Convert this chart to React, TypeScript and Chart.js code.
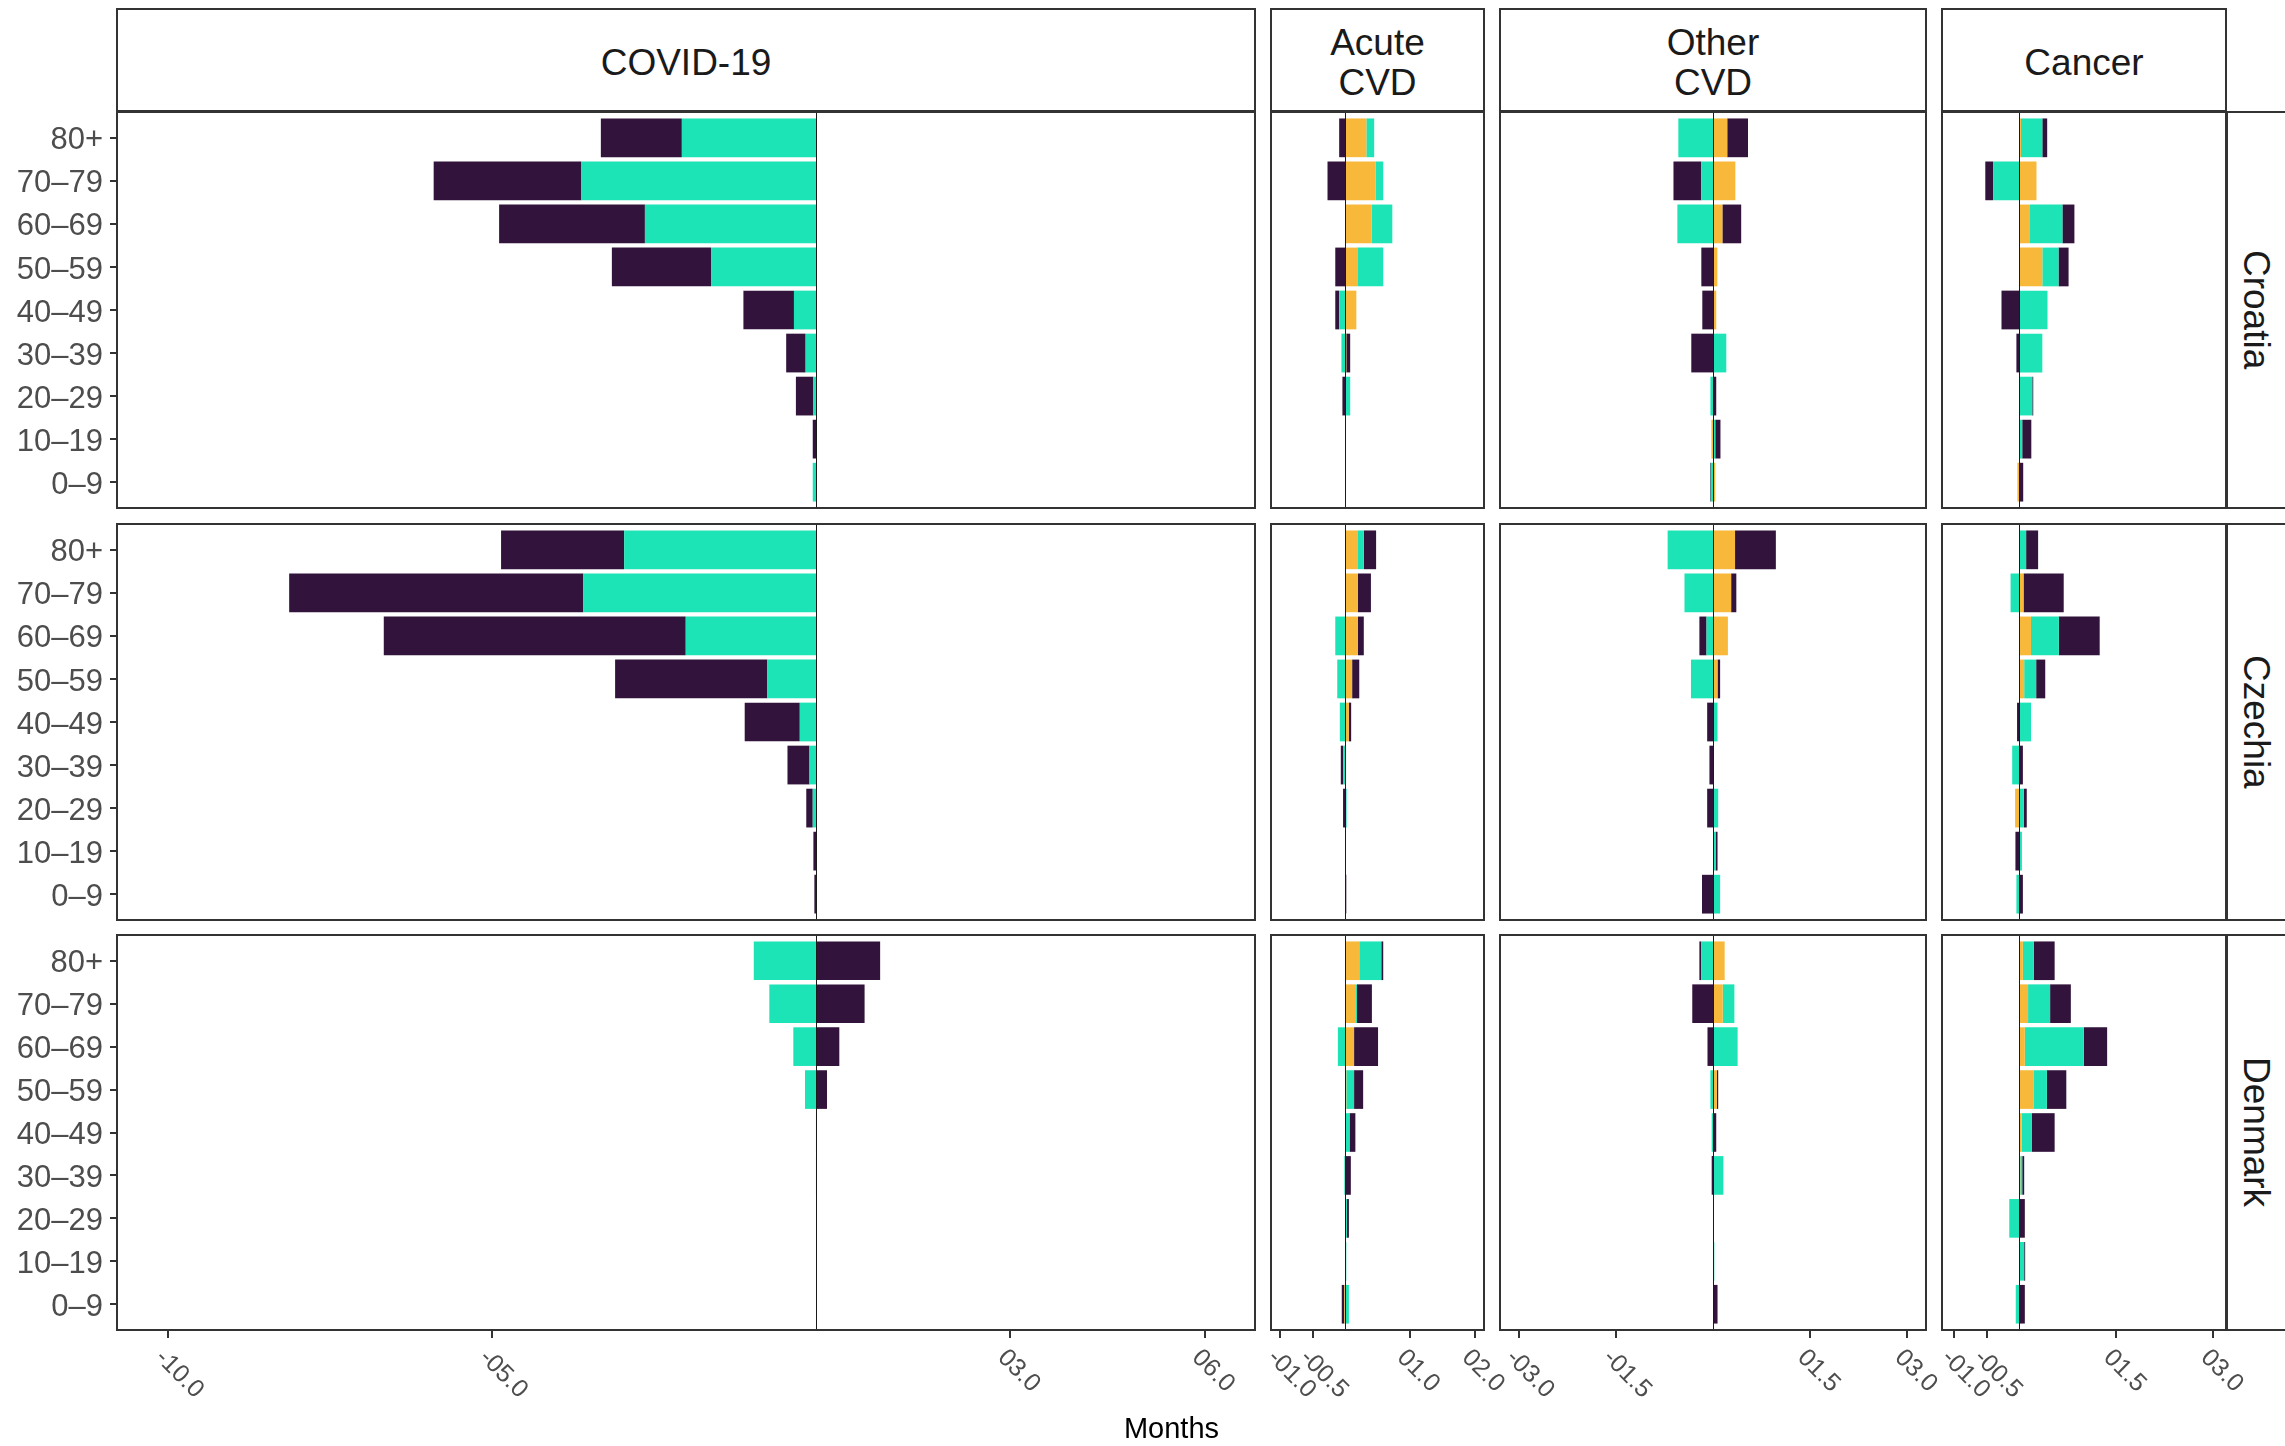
import React, { useEffect, useRef } from 'react';
import { Chart, registerables } from 'chart.js';

Chart.register(...registerables);

// ---------- categories & labels ----------
const AGE_GROUPS = ['80+', '70–79', '60–69', '50–59', '40–49', '30–39', '20–29', '10–19', '0–9'];
const COUNTRIES = ['Croatia', 'Czechia', 'Denmark'];
const CAUSES = ['COVID-19', 'Acute\nCVD', 'Other\nCVD', 'Cancer'];
const SERIES_LABELS = ['Component 1', 'Component 2', 'Component 3'];
const SERIES_COLORS = ['#F8B93B', '#1CE4B6', '#32133B'];

// ---------- x-axis ticks per cause ----------
const COVID_TICKS = [-10, -5, 3, 6];
const COVID_TICK_LABELS = ['-10.0', '-05.0', '03.0', '06.0'];
const ACUTE_TICKS = [-1, -0.5, 1, 2];
const ACUTE_TICK_LABELS = ['-01.0', '-00.5', '01.0', '02.0'];
const OTHER_TICKS = [-3, -1.5, 1.5, 3];
const OTHER_TICK_LABELS = ['-03.0', '-01.5', '01.5', '03.0'];
const CANCER_TICKS = [-1, -0.5, 1.5, 3];
const CANCER_TICK_LABELS = ['-01.0', '-00.5', '01.5', '03.0'];

const COVID_RANGE = [-10.787, 6.775];
const ACUTE_RANGE = [-1.142, 2.145];
const OTHER_RANGE = [-3.287, 3.287];
const CANCER_RANGE = [-1.188, 3.194];

// ---------- values (months), age groups top (80+) to bottom (0–9) ----------
// Croatia
const CRO_COVID_YELLOW = [0, 0, 0, 0, 0, 0, 0, 0, 0];
const CRO_COVID_TEAL = [-2.07, -3.62, -2.64, -1.62, -0.34, -0.16, -0.04, 0, -0.05];
const CRO_COVID_PURPLE = [-1.25, -2.28, -2.25, -1.53, -0.78, -0.3, -0.27, -0.05, 0];
const CRO_ACUTE_YELLOW = [0.33, 0.47, 0.41, 0.19, 0.175, 0.02, 0, 0, 0];
const CRO_ACUTE_TEAL = [0.12, 0.12, 0.32, 0.4, -0.09, -0.055, 0.08, 0, 0];
const CRO_ACUTE_PURPLE = [-0.09, -0.27, 0, -0.15, -0.06, 0.06, -0.04, 0, 0];
const CRO_OTHER_YELLOW = [0.22, 0.345, 0.145, 0.067, 0.05, 0, 0, -0.025, 0.035];
const CRO_OTHER_TEAL = [-0.535, -0.18, -0.55, 0, 0, 0.205, -0.04, 0.035, -0.035];
const CRO_OTHER_PURPLE = [0.32, -0.43, 0.29, -0.18, -0.165, -0.335, 0.05, 0.08, -0.01];
const CRO_CANCER_YELLOW = [0.03, 0.27, 0.17, 0.36, 0, 0, 0, 0, -0.025];
const CRO_CANCER_TEAL = [0.33, -0.4, 0.5, 0.25, 0.44, 0.36, 0.205, 0.05, 0];
const CRO_CANCER_PURPLE = [0.075, -0.12, 0.185, 0.155, -0.27, -0.04, 0.015, 0.14, 0.065];
// Czechia
const CZE_COVID_YELLOW = [0, 0, 0, 0, 0, 0, 0, 0, 0];
const CZE_COVID_TEAL = [-2.96, -3.59, -2.01, -0.75, -0.25, -0.1, -0.05, 0, 0];
const CZE_COVID_PURPLE = [-1.9, -4.54, -4.66, -2.35, -0.85, -0.34, -0.1, -0.04, -0.025];
const CZE_ACUTE_YELLOW = [0.2, 0.2, 0.2, 0.11, 0.06, 0, 0, 0, 0];
const CZE_ACUTE_TEAL = [0.09, 0, -0.15, -0.12, -0.08, -0.03, 0.025, 0, 0];
const CZE_ACUTE_PURPLE = [0.19, 0.2, 0.09, 0.11, 0.035, -0.035, -0.03, 0, 0.02];
const CZE_OTHER_YELLOW = [0.34, 0.28, 0.23, 0.07, 0.015, 0, 0, 0, 0];
const CZE_OTHER_TEAL = [-0.7, -0.44, -0.1, -0.34, 0.055, 0.01, 0.08, 0.04, 0.11];
const CZE_OTHER_PURPLE = [0.63, 0.08, -0.11, 0.04, -0.09, -0.055, -0.09, 0.03, -0.17];
const CZE_CANCER_YELLOW = [0, 0.07, 0.185, 0.08, 0, 0, -0.06, 0, 0];
const CZE_CANCER_TEAL = [0.11, -0.13, 0.43, 0.185, 0.185, -0.105, 0.075, 0.045, -0.04];
const CZE_CANCER_PURPLE = [0.185, 0.62, 0.63, 0.14, -0.03, 0.06, 0.045, -0.055, 0.06];
// Denmark
const DEN_COVID_YELLOW = [0, 0, 0, 0, 0, 0, 0, 0, 0];
const DEN_COVID_TEAL = [-0.96, -0.72, -0.35, -0.17, 0, 0, 0, 0, 0];
const DEN_COVID_PURPLE = [0.99, 0.75, 0.36, 0.17, 0.01, 0.01, 0, 0, 0];
const DEN_ACUTE_YELLOW = [0.22, 0.17, 0.14, 0.02, 0.01, 0, 0.01, 0, -0.01];
const DEN_ACUTE_TEAL = [0.34, 0.015, -0.11, 0.12, 0.06, -0.01, 0.02, 0.02, 0.06];
const DEN_ACUTE_PURPLE = [0.03, 0.23, 0.37, 0.14, 0.09, 0.09, 0.03, 0, -0.04];
const DEN_OTHER_YELLOW = [0.18, 0.15, 0.01, 0.06, 0, 0, 0, 0, 0];
const DEN_OTHER_TEAL = [-0.18, 0.18, 0.37, -0.04, -0.02, 0.16, 0, 0.02, 0];
const DEN_OTHER_PURPLE = [-0.03, -0.32, -0.085, 0.02, 0.05, -0.02, 0.01, 0, 0.07];
const DEN_CANCER_YELLOW = [0.06, 0.14, 0.09, 0.23, 0.04, 0.02, 0, 0, 0];
const DEN_CANCER_TEAL = [0.17, 0.34, 0.91, 0.2, 0.16, 0.03, -0.15, 0.08, -0.05];
const DEN_CANCER_PURPLE = [0.32, 0.32, 0.36, 0.3, 0.35, 0.03, 0.09, 0.015, 0.09];

const PANEL_DATA = [
  [
    [CRO_COVID_YELLOW, CRO_COVID_TEAL, CRO_COVID_PURPLE],
    [CRO_ACUTE_YELLOW, CRO_ACUTE_TEAL, CRO_ACUTE_PURPLE],
    [CRO_OTHER_YELLOW, CRO_OTHER_TEAL, CRO_OTHER_PURPLE],
    [CRO_CANCER_YELLOW, CRO_CANCER_TEAL, CRO_CANCER_PURPLE],
  ],
  [
    [CZE_COVID_YELLOW, CZE_COVID_TEAL, CZE_COVID_PURPLE],
    [CZE_ACUTE_YELLOW, CZE_ACUTE_TEAL, CZE_ACUTE_PURPLE],
    [CZE_OTHER_YELLOW, CZE_OTHER_TEAL, CZE_OTHER_PURPLE],
    [CZE_CANCER_YELLOW, CZE_CANCER_TEAL, CZE_CANCER_PURPLE],
  ],
  [
    [DEN_COVID_YELLOW, DEN_COVID_TEAL, DEN_COVID_PURPLE],
    [DEN_ACUTE_YELLOW, DEN_ACUTE_TEAL, DEN_ACUTE_PURPLE],
    [DEN_OTHER_YELLOW, DEN_OTHER_TEAL, DEN_OTHER_PURPLE],
    [DEN_CANCER_YELLOW, DEN_CANCER_TEAL, DEN_CANCER_PURPLE],
  ],
];

const CAUSE_TICKS = [COVID_TICKS, ACUTE_TICKS, OTHER_TICKS, CANCER_TICKS];
const CAUSE_TICK_LABELS = [COVID_TICK_LABELS, ACUTE_TICK_LABELS, OTHER_TICK_LABELS, CANCER_TICK_LABELS];
const CAUSE_RANGES = [COVID_RANGE, ACUTE_RANGE, OTHER_RANGE, CANCER_RANGE];

// ---------- layout (pixels) ----------
const W = 2285;
const H = 1446;
const COLS = [
  { left: 117, right: 1255 },
  { left: 1271, right: 1484 },
  { left: 1500, right: 1926 },
  { left: 1942, right: 2226 },
];
const ROWS = [
  { top: 112, bottom: 508 },
  { top: 524, bottom: 920 },
  { top: 935, bottom: 1330 },
];
const FONT = '"Liberation Sans", Arial, Helvetica, sans-serif';
const PAD = 4;
const LABEL_OVERHANG = 70;

function Panel({ row, col }: { row: number; col: number }) {
  const ref = useRef<HTMLCanvasElement | null>(null);
  const isLeft = col === 0;
  const isBottom = row === 2;
  const rightPad = isBottom ? PAD + LABEL_OVERHANG : PAD;
  const cLeft = isLeft ? 0 : COLS[col].left - PAD;
  const cRight = COLS[col].right + rightPad;
  const cTop = ROWS[row].top - PAD;
  const cBottom = isBottom ? H : ROWS[row].bottom + PAD;
  const w = cRight - cLeft;
  const h = cBottom - cTop;

  useEffect(() => {
    const canvas = ref.current;
    if (!canvas) return;
    const series = PANEL_DATA[row][col];
    const ticks = CAUSE_TICKS[col];
    const tickLabels = CAUSE_TICK_LABELS[col];
    const range = CAUSE_RANGES[col];
    const n = AGE_GROUPS.length;

    const decor = {
      id: 'panelDecor',
      afterDatasetsDraw(chart: any) {
        const { ctx, chartArea } = chart;
        const x0 = chart.scales.x.getPixelForValue(0);
        ctx.save();
        ctx.strokeStyle = '#1a1a1a';
        ctx.lineWidth = 1;
        ctx.beginPath();
        ctx.moveTo(Math.round(x0) + 0.5, chartArea.top);
        ctx.lineTo(Math.round(x0) + 0.5, chartArea.bottom);
        ctx.stroke();
        ctx.restore();
      },
      afterDraw(chart: any) {
        const { ctx, chartArea } = chart;
        ctx.save();
        ctx.strokeStyle = '#333333';
        ctx.lineWidth = 2;
        ctx.strokeRect(chartArea.left, chartArea.top, chartArea.right - chartArea.left, chartArea.bottom - chartArea.top);
        if (isBottom) {
          ctx.fillStyle = '#4d4d4d';
          ctx.font = `25px ${FONT}`;
          ctx.textAlign = 'left';
          ctx.textBaseline = 'top';
          ticks.forEach((v, i) => {
            const x = chart.scales.x.getPixelForValue(v);
            ctx.save();
            ctx.translate(x, chartArea.bottom + 15);
            ctx.rotate(Math.PI / 4);
            ctx.fillText(tickLabels[i], 0, 0);
            ctx.restore();
          });
        }
        ctx.restore();
      },
    };

    const chart = new Chart(canvas, {
      type: 'bar',
      data: {
        datasets: series.map((vals, k) => ({
          label: SERIES_LABELS[k],
          data: vals.map((v, i) => ({ x: v, y: n - 1 - i })),
          backgroundColor: SERIES_COLORS[k],
          borderWidth: 0,
          barPercentage: 0.9,
          categoryPercentage: 1,
        })),
      },
      options: {
        indexAxis: 'y',
        animation: false,
        responsive: false,
        devicePixelRatio: 1,
        events: [],
        layout: {
          padding: { left: isLeft ? 0 : PAD, right: rightPad, top: PAD, bottom: isBottom ? 0 : PAD },
        },
        plugins: { legend: { display: false }, tooltip: { enabled: false } },
        scales: {
          x: {
            type: 'linear',
            min: range[0],
            max: range[1],
            offset: false,
            stacked: true,
            display: isBottom,
            afterBuildTicks: (s: any) => {
              s.ticks = ticks.map((v) => ({ value: v }));
            },
            afterFit: (s: any) => {
              if (isBottom) {
                s.height = H - ROWS[2].bottom;
                s.paddingLeft = 0;
                s.paddingRight = 0;
              }
            },
            grid: { display: true, offset: false, drawOnChartArea: false, drawTicks: true, tickLength: 8, color: '#333333', lineWidth: 2 },
            border: { display: false },
            ticks: { display: false },
          },
          y: {
            type: 'linear',
            min: -0.6,
            max: n - 1 + 0.6,
            offset: false,
            stacked: true,
            display: isLeft,
            afterBuildTicks: (s: any) => {
              s.ticks = AGE_GROUPS.map((_, i) => ({ value: i }));
            },
            afterFit: (s: any) => {
              if (isLeft) {
                s.width = COLS[0].left;
                s.paddingTop = 0;
                s.paddingBottom = 0;
              }
            },
            grid: { display: true, offset: false, drawOnChartArea: false, drawTicks: true, tickLength: 7, color: '#333333', lineWidth: 2 },
            border: { display: false },
            ticks: {
              display: true,
              autoSkip: false,
              padding: 7,
              labelOffset: 3,
              color: '#4d4d4d',
              font: { family: FONT, size: 31 },
              callback: (v: any) => AGE_GROUPS[n - 1 - Number(v)],
            },
          },
        },
      } as any,
      plugins: [decor],
    });
    return () => chart.destroy();
  }, [row, col]);

  return (
    <canvas
      ref={ref}
      width={w}
      height={h}
      style={{ position: 'absolute', left: cLeft, top: cTop, width: w, height: h }}
    />
  );
}

export default function App() {
  useEffect(() => {
    document.body.style.margin = '0';
    document.body.style.overflow = 'hidden';
  }, []);

  const panels = [];
  for (let r = 0; r < ROWS.length; r++) {
    for (let c = 0; c < COLS.length; c++) {
      panels.push(<Panel key={`${r}-${c}`} row={r} col={c} />);
    }
  }

  return (
    <div
      style={{
        position: 'absolute',
        left: 0,
        top: 0,
        width: W,
        height: H,
        overflow: 'hidden',
        background: '#ffffff',
        fontFamily: FONT,
      }}
    >
      {CAUSES.map((cause, c) => (
        <div
          key={cause}
          style={{
            position: 'absolute',
            left: COLS[c].left - 1,
            top: 8,
            width: COLS[c].right - COLS[c].left + 2,
            height: 104,
            boxSizing: 'border-box',
            border: '2px solid #333333',
            background: '#ffffff',
            display: 'flex',
            alignItems: 'center',
            justifyContent: 'center',
            textAlign: 'center',
            whiteSpace: 'pre-line',
            fontSize: 37,
            lineHeight: '40px',
            color: '#1a1a1a',
            paddingTop: 5,
          }}
        >
          {cause}
        </div>
      ))}
      {COUNTRIES.map((country, r) => (
        <div
          key={country}
          style={{
            position: 'absolute',
            left: COLS[3].right,
            top: ROWS[r].top - 1,
            width: 70,
            height: ROWS[r].bottom - ROWS[r].top + 2,
            boxSizing: 'border-box',
            border: '2px solid #333333',
            background: '#ffffff',
            display: 'flex',
            alignItems: 'center',
            justifyContent: 'center',
            fontSize: 37,
            color: '#1a1a1a',
          }}
        >
          <span style={{ writingMode: 'vertical-rl', marginRight: 10 }}>{country}</span>
        </div>
      ))}
      {panels}
      <div
        style={{
          position: 'absolute',
          left: 0,
          width: COLS[0].left + COLS[3].right,
          top: 1414,
          height: 30,
          lineHeight: '29px',
          fontSize: 29,
          color: '#000000',
          textAlign: 'center',
        }}
      >
        Months
      </div>
    </div>
  );
}
